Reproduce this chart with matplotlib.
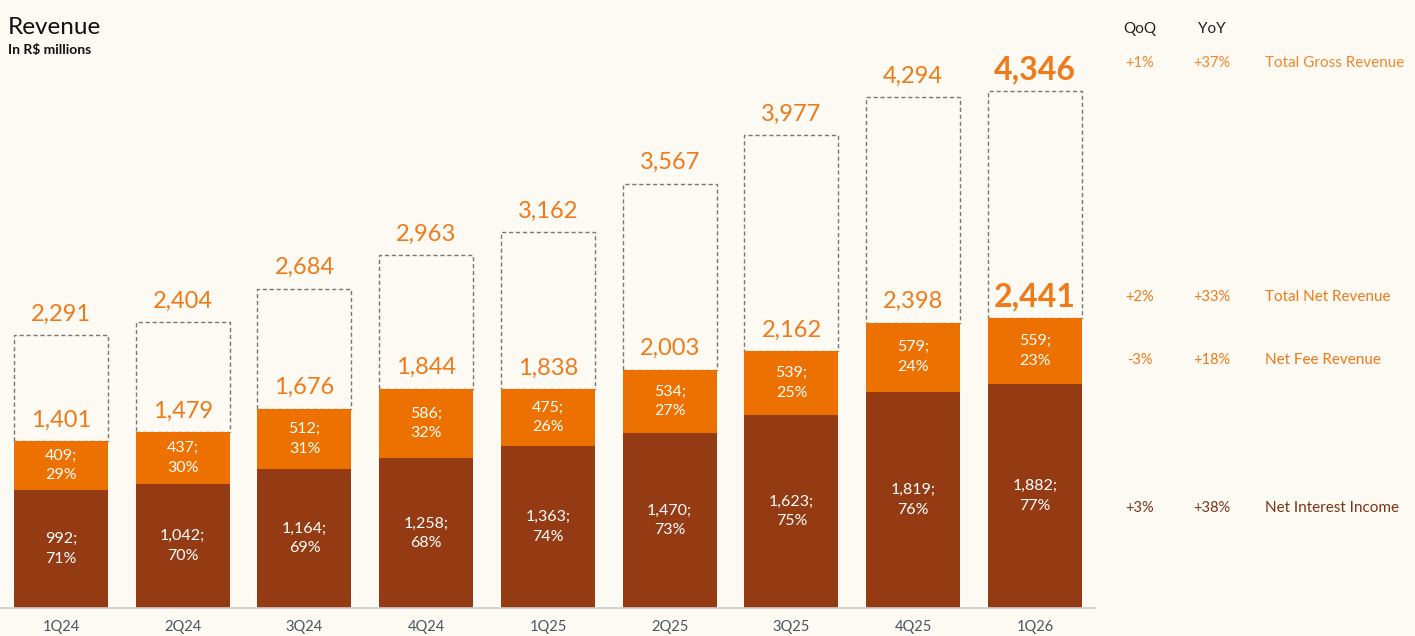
import matplotlib
matplotlib.use("Agg")
import matplotlib.pyplot as plt

quarters = ["1Q24", "2Q24", "3Q24", "4Q24", "1Q25", "2Q25", "3Q25", "4Q25", "1Q26"]
nii = [992, 1042, 1164, 1258, 1363, 1470, 1623, 1819, 1882]
nii_pct = [71, 70, 69, 68, 74, 73, 75, 76, 77]
fee = [409, 437, 512, 586, 475, 534, 539, 579, 559]
fee_pct = [29, 30, 31, 32, 26, 27, 25, 24, 23]
net = [1401, 1479, 1676, 1844, 1838, 2003, 2162, 2398, 2441]
gross = [2291, 2404, 2684, 2963, 3162, 3567, 3977, 4294, 4346]

row_labels = ["Total Gross Revenue", "Total Net Revenue", "Net Fee Revenue", "Net Interest Income"]
qoq = ["+1%", "+2%", "-3%", "+3%"]
yoy = ["+37%", "+33%", "+18%", "+38%"]

BG = "#FDF9F3"
C_NII = "#943B14"
C_FEE = "#EC7100"
C_TXT = "#EE7A1A"
C_GROSS_TXT = "#F0882E"
C_NII_TXT = "#7A3518"

plt.rcParams["font.family"] = ["Lato", "DejaVu Sans"]

W, H = 1415, 636
fig = plt.figure(figsize=(W / 100, H / 100), dpi=100, facecolor=BG)
ax = fig.add_axes([0, 28 / H, 1095 / W, 608 / H])
ax.set_facecolor(BG)

x = list(range(len(quarters)))
bw = 0.772

ax.bar(x, nii, width=bw, color=C_NII, zorder=2)
ax.bar(x, fee, width=bw, bottom=nii, color=C_FEE, zorder=2)
ax.bar(x, [g - n for g, n in zip(gross, net)], width=bw, bottom=net,
       facecolor="none", edgecolor="#777777", linestyle=(0, (3, 2)), linewidth=1.0, zorder=1)

last = len(quarters) - 1
for i in x:
    bold = i == last
    ax.annotate(f"{gross[i]:,}", (i, gross[i]), xytext=(0, 15), textcoords="offset points",
                ha="center", va="center", color=C_TXT,
                fontsize=23 if bold else 17, fontweight="bold" if bold else "normal")
    ax.annotate(f"{net[i]:,}", (i, net[i]), xytext=(0, 15), textcoords="offset points",
                ha="center", va="center", color=C_TXT,
                fontsize=23 if bold else 17, fontweight="bold" if bold else "normal")
    ax.text(i, nii[i] + fee[i] / 2, f"{fee[i]:,};\n{fee_pct[i]}%", ha="center", va="center",
            color="white", fontsize=11.5, linespacing=1.5)
    ax.text(i, nii[i] / 2, f"{nii[i]:,};\n{nii_pct[i]}%", ha="center", va="center",
            color="white", fontsize=11.5, linespacing=1.5)

ax.set_xlim(-0.501, 8.493)
ax.set_ylim(0, 608 / 0.119)
for s in ["top", "right", "left"]:
    ax.spines[s].set_visible(False)
ax.spines["bottom"].set_color("#CCCCCC")
ax.spines["bottom"].set_linewidth(1.2)
ax.set_yticks([])
ax.set_xticks(x)
ax.set_xticklabels(quarters, fontsize=10.5, color="#4A5560")
ax.tick_params(axis="x", length=0, pad=9)

# Title
fig.text(8 / W, 1 - 27 / H, "Revenue", fontsize=17.5, color="#111111", va="center", ha="left")
fig.text(8 / W, 1 - 50 / H, "In R$ millions", fontsize=10, color="#111111", fontweight="bold",
         va="center", ha="left")

# Right panel
fig.text(1140 / W, 1 - 29 / H, "QoQ", fontsize=11, color="#222222", ha="center", va="center")
fig.text(1212 / W, 1 - 29 / H, "YoY", fontsize=11, color="#222222", ha="center", va="center")
row_y = [63, 297, 360, 508]
row_colors = [C_GROSS_TXT, C_TXT, C_TXT, C_NII_TXT]
for lbl, q, yv, ry, c in zip(row_labels, qoq, yoy, row_y, row_colors):
    fy = 1 - ry / H
    fig.text(1140 / W, fy, q, fontsize=10.5, color=c, ha="center", va="center")
    fig.text(1212 / W, fy, yv, fontsize=10.5, color=c, ha="center", va="center")
    fig.text(1265 / W, fy, lbl, fontsize=11, color=c, ha="left", va="center")

fig.savefig("out.png", dpi=100, facecolor=BG)
